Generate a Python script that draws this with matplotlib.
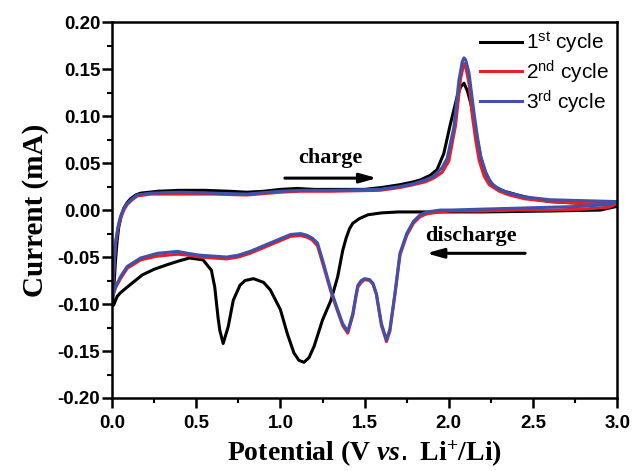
import matplotlib
matplotlib.use("Agg")
import matplotlib.pyplot as plt
from matplotlib.ticker import MultipleLocator

plt.rcParams['mathtext.fontset'] = 'custom'
plt.rcParams['mathtext.sf'] = 'Liberation Sans'
plt.rcParams['mathtext.bf'] = 'Liberation Serif:bold'
plt.rcParams['mathtext.it'] = 'Liberation Serif:italic:bold'

# ---- cycle 1 : discharge (3.0 -> 0 V) then charge (0 -> 3.0 V) ----
v1_dis = [3.00, 2.90, 2.60, 2.20, 1.90, 1.70, 1.60, 1.52, 1.47, 1.43, 1.41, 1.39,
          1.37, 1.34, 1.30, 1.25, 1.20, 1.17, 1.14, 1.11, 1.08, 1.04, 1.00, 0.94,
          0.90, 0.84, 0.79, 0.76, 0.72, 0.69, 0.66, 0.64, 0.63, 0.61, 0.59, 0.54,
          0.46, 0.40, 0.33, 0.25, 0.18, 0.09, 0.05, 0.03, 0.01, 0.00]
i1_dis = [0.004, 0.000, -0.001, -0.002, -0.002, -0.002, -0.003, -0.005, -0.009,
          -0.014, -0.020, -0.030, -0.043, -0.071, -0.096, -0.117, -0.145, -0.157,
          -0.162, -0.160, -0.152, -0.131, -0.106, -0.085, -0.077, -0.073, -0.075,
          -0.080, -0.096, -0.124, -0.142, -0.128, -0.115, -0.082, -0.064, -0.053,
          -0.051, -0.054, -0.058, -0.063, -0.069, -0.082, -0.088, -0.092, -0.101,
          -0.102]
v1_chg = [0.00, 0.01, 0.02, 0.03, 0.04, 0.055, 0.07, 0.09, 0.11, 0.14, 0.17, 0.22,
          0.27, 0.40, 0.55, 0.70, 0.80, 0.90, 1.00, 1.10, 1.20, 1.35, 1.50, 1.60,
          1.71, 1.79, 1.83, 1.89, 1.93, 1.97, 2.01, 2.05, 2.07, 2.09, 2.11, 2.13,
          2.15, 2.17, 2.19, 2.21, 2.24, 2.27, 2.33, 2.41, 2.50, 2.60, 2.80, 3.00]
i1_chg = [-0.102, -0.085, -0.055, -0.033, -0.018, -0.006, 0.002, 0.008, 0.012,
          0.016, 0.018, 0.019, 0.020, 0.021, 0.021, 0.020, 0.019, 0.020, 0.022,
          0.023, 0.022, 0.022, 0.022, 0.024, 0.027, 0.030, 0.032, 0.037, 0.043,
          0.060, 0.092, 0.121, 0.131, 0.135, 0.127, 0.114, 0.095, 0.074, 0.056,
          0.043, 0.032, 0.025, 0.020, 0.016, 0.012, 0.009, 0.007, 0.007]

# ---- cycle 2 ----
v2_dis = [3.00, 2.95, 2.80, 2.60, 2.40, 2.20, 2.01, 1.95, 1.91, 1.87, 1.83, 1.79,
          1.75, 1.71, 1.68, 1.65, 1.63, 1.60, 1.57, 1.55, 1.53, 1.50, 1.48, 1.46,
          1.45, 1.43, 1.40, 1.37, 1.34, 1.30, 1.25, 1.22, 1.19, 1.16, 1.12, 1.06,
          0.98, 0.90, 0.82, 0.75, 0.68, 0.60, 0.52, 0.45, 0.39, 0.33, 0.27, 0.17,
          0.09, 0.05, 0.02, 0.01, 0.00]
i2_dis = [0.007, 0.003, 0.001, 0.000, 0.000, -0.001, -0.001, -0.002, -0.003,
          -0.004, -0.007, -0.014, -0.027, -0.048, -0.090, -0.129, -0.140, -0.123,
          -0.090, -0.079, -0.075, -0.074, -0.077, -0.082, -0.091, -0.112, -0.131,
          -0.123, -0.108, -0.087, -0.056, -0.038, -0.032, -0.029, -0.027, -0.028,
          -0.034, -0.040, -0.046, -0.050, -0.052, -0.051, -0.050, -0.048, -0.047,
          -0.048, -0.049, -0.053, -0.062, -0.073, -0.083, -0.088, -0.089]
v2_chg = [0.00, 0.01, 0.02, 0.035, 0.05, 0.07, 0.09, 0.12, 0.15, 0.23, 0.40, 0.60,
          0.80, 1.00, 1.12, 1.30, 1.59, 1.71, 1.79, 1.86, 1.91, 1.96, 2.00, 2.04,
          2.07, 2.09, 2.10, 2.12, 2.14, 2.16, 2.18, 2.21, 2.24, 2.30, 2.36, 2.45,
          2.60, 2.80, 3.00]
i2_chg = [-0.089, -0.066, -0.037, -0.020, -0.009, 0.000, 0.006, 0.011, 0.015,
          0.017, 0.017, 0.017, 0.016, 0.019, 0.020, 0.020, 0.021, 0.024, 0.027,
          0.030, 0.034, 0.040, 0.052, 0.090, 0.140, 0.156, 0.153, 0.135, 0.100,
          0.074, 0.053, 0.036, 0.027, 0.020, 0.016, 0.012, 0.009, 0.007, 0.007]

# ---- cycle 3 ----
v3_dis = [3.00, 2.95, 2.80, 2.60, 2.41, 2.20, 2.01, 1.95, 1.91, 1.87, 1.83, 1.79,
          1.75, 1.71, 1.68, 1.65, 1.63, 1.60, 1.57, 1.55, 1.53, 1.50, 1.48, 1.46,
          1.45, 1.43, 1.40, 1.37, 1.34, 1.30, 1.25, 1.22, 1.19, 1.16, 1.12, 1.06,
          0.98, 0.90, 0.82, 0.75, 0.68, 0.60, 0.52, 0.45, 0.39, 0.33, 0.27, 0.17,
          0.09, 0.05, 0.02, 0.01, 0.00]
i3_dis = [0.009, 0.006, 0.004, 0.003, 0.002, 0.001, 0.000, 0.000, -0.001,
          -0.002, -0.005, -0.012, -0.025, -0.046, -0.089, -0.127, -0.138, -0.121,
          -0.089, -0.078, -0.074, -0.073, -0.075, -0.080, -0.089, -0.110, -0.129,
          -0.121, -0.106, -0.085, -0.053, -0.035, -0.030, -0.027, -0.025, -0.026,
          -0.032, -0.038, -0.044, -0.048, -0.050, -0.049, -0.048, -0.046, -0.044,
          -0.045, -0.046, -0.051, -0.060, -0.071, -0.082, -0.089, -0.090]
v3_chg = [0.00, 0.01, 0.02, 0.035, 0.05, 0.07, 0.09, 0.12, 0.15, 0.23, 0.40, 0.60,
          0.80, 1.00, 1.12, 1.30, 1.59, 1.71, 1.79, 1.86, 1.91, 1.96, 1.99, 2.03,
          2.06, 2.08, 2.09, 2.10, 2.12, 2.15, 2.17, 2.19, 2.22, 2.25, 2.30, 2.36,
          2.45, 2.60, 2.80, 3.00]
i3_chg = [-0.090, -0.065, -0.035, -0.018, -0.007, 0.002, 0.007, 0.012, 0.016,
          0.018, 0.019, 0.018, 0.017, 0.020, 0.021, 0.021, 0.022, 0.025, 0.028,
          0.032, 0.036, 0.045, 0.055, 0.088, 0.138, 0.158, 0.162, 0.160, 0.146,
          0.103, 0.078, 0.057, 0.040, 0.029, 0.022, 0.018, 0.014, 0.011, 0.010,
          0.009]

labels = [r"1$^{\mathsf{st}}$ cycle", r"2$^{\mathsf{nd}}$ cycle", r"3$^{\mathsf{rd}}$ cycle"]
colors = ["#000000", "#e3202b", "#3f51a8"]

fig = plt.figure(figsize=(6.33, 4.71), dpi=100)
ax = fig.add_axes([0.177, 0.155, 0.798, 0.798])

cycles = [(v1_dis + v1_chg, i1_dis + i1_chg),
          (v2_dis + v2_chg, i2_dis + i2_chg),
          (v3_dis + v3_chg, i3_dis + i3_chg)]
for (v, i), c, lab in zip(cycles, colors, labels):
    ax.plot(v, i, color=c, lw=2.2, label=lab, solid_joinstyle='round')

ax.set_xlim(0, 3.0)
ax.set_ylim(-0.20, 0.20)
ax.xaxis.set_major_locator(MultipleLocator(0.5))
ax.xaxis.set_minor_locator(MultipleLocator(0.25))
ax.yaxis.set_major_locator(MultipleLocator(0.05))
ax.yaxis.set_minor_locator(MultipleLocator(0.025))
ax.xaxis.set_major_formatter(plt.FormatStrFormatter('%.1f'))
ax.yaxis.set_major_formatter(plt.FormatStrFormatter('%.2f'))

for s in ax.spines.values():
    s.set_linewidth(1.8)
ax.tick_params(which='major', direction='out', length=7, width=1.8,
               top=False, right=False)
ax.tick_params(which='minor', direction='out', length=3.5, width=1.5,
               top=False, right=False)
ax.tick_params(axis='x', which='major', pad=5)
ax.tick_params(axis='y', which='major', pad=1.5)
for t in ax.get_xticklabels() + ax.get_yticklabels():
    t.set_fontfamily('Liberation Sans')
    t.set_fontweight('bold')
    t.set_fontsize(13.5)

ax.set_xlabel(r"Potential (V $\mathit{vs.}$ Li$^{\mathbf{+}}$/Li)",
              family='Liberation Serif', weight='bold', fontsize=20, labelpad=5)
ax.set_ylabel("Current (mA)", family='Liberation Serif', weight='bold',
              fontsize=21, labelpad=6)

# sweep direction arrows
ax.annotate('', xy=(1.59, 0.034), xytext=(1.01, 0.034),
            arrowprops=dict(arrowstyle='-|>,head_length=1.0,head_width=0.28',
                            color='k', lw=2.2))
ax.text(1.30, 0.055, "charge", ha='center', va='center',
        family='Liberation Serif', weight='bold', fontsize=16)
ax.annotate('', xy=(1.85, -0.046), xytext=(2.47, -0.046),
            arrowprops=dict(arrowstyle='-|>,head_length=1.0,head_width=0.28',
                            color='k', lw=2.2))
ax.text(2.13, -0.028, "discharge", ha='center', va='center',
        family='Liberation Serif', weight='bold', fontsize=16)

ax.legend(loc='upper right', frameon=False, prop={'family': 'Liberation Sans', 'size': 15},
          handlelength=2.0, handletextpad=0.2, labelspacing=0.15,
          borderaxespad=0.2, borderpad=0.2)

fig.savefig("out.png", dpi=100)
